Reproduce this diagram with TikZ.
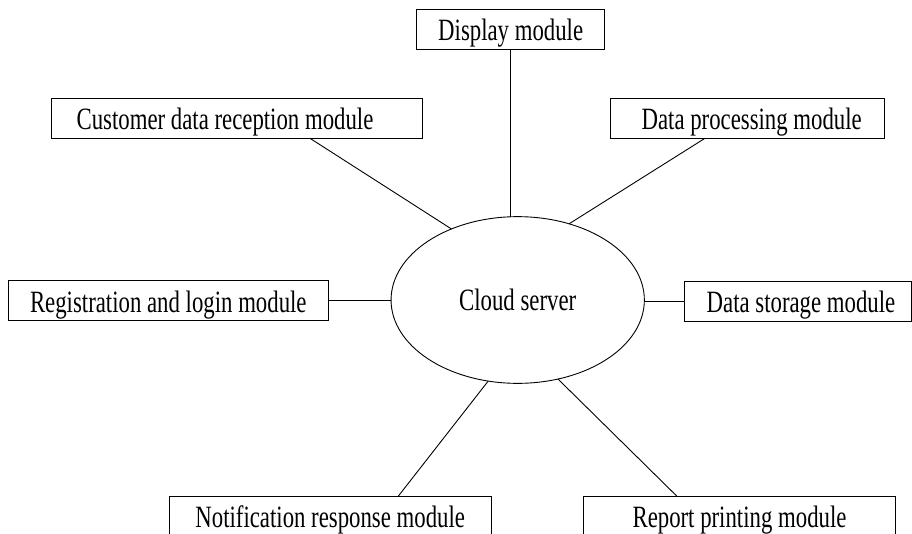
\documentclass[tikz,border=0pt]{standalone}
\usepackage{fontspec}
\setmainfont{Liberation Serif}[FakeStretch=0.735]
\usetikzlibrary{shapes.geometric,calc}
\begin{document}
\begin{tikzpicture}[x=1pt,y=-1pt,
  box/.style={draw, rectangle, line width=0.9pt, inner sep=0pt, outer sep=0pt,
    minimum height=40pt, text height=31.4pt, text depth=8.6pt},
  link/.style={draw, line width=0.9pt},
  every node/.style={font=\fontsize{31}{37}\selectfont}]
\useasboundingbox (0,0) rectangle (912,533);
\node[draw, ellipse, line width=0.9pt, inner sep=0pt, outer sep=0pt,
  minimum width=253.3pt, minimum height=166.7pt] (cloud) at (517.7,300) {Cloud server};
\node[box, minimum width=188pt] (disp) at (510.7,29.3) {Display module};
\node[box, minimum width=371pt] (cust) at (236.5,118.3) {\hspace*{-23pt}Customer data reception module};
\node[box, minimum width=274.3pt] (proc) at (747.2,118.3) {\hspace*{9pt}Data processing module};
\node[box, minimum width=320pt] (reg) at (168.3,300.7) {Registration and login module};
\node[box, minimum width=227pt] (stor) at (797.5,301.2) {\hspace*{7pt}Data storage module};
\node[box, minimum width=321.7pt] (noti) at (330.2,516) {Notification response module};
\node[box, minimum width=312.4pt] (rep) at (739.5,516) {Report printing module};
\draw[link] (disp.south) -- (disp.south |- cloud.north);
\draw[link] ($(cust.south west)!0.698!(cust.south east)$) -- (cloud.133.3);
\draw[link] ($(proc.south west)!0.346!(proc.south east)$) -- (cloud.56.3);
\draw[link] (reg.east) -- (reg.east -| cloud.west);
\draw[link] (stor.west) -- (stor.west -| cloud.east);
\draw[link] ($(noti.north west)!0.712!(noti.north east)$) -- (cloud.250.2);
\draw[link] ($(rep.north west)!0.299!(rep.north east)$) -- (cloud.297.7);
\end{tikzpicture}
\end{document}
